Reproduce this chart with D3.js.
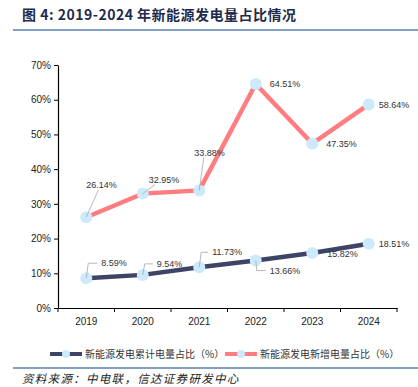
<!DOCTYPE html>
<html>
<head>
<meta charset="utf-8">
<script src="https://cdn.jsdelivr.net/npm/d3@7"></script>
<style>
  body { margin: 0; background: #fff; }
  svg { display: block; font-family: "Liberation Sans", Arial, sans-serif; }
</style>
</head>
<body>
<div id="chart"></div>
<script>
const years = ['2019', '2020', '2021', '2022', '2023', '2024'];
const cumulative = [8.59, 9.54, 11.73, 13.66, 15.82, 18.51];
const newAdded = [26.14, 32.95, 33.88, 64.51, 47.35, 58.64];
const yTicks = [0, 10, 20, 30, 40, 50, 60, 70];
const seriesNames = ['新能源发电累计电量占比（%）', '新能源发电新增电量占比（%）'];

// label placement relative to the point: [dx, dy, leader type]
const cumLabelPos = [[15, -15, 'elbow'], [14, -11, 'elbow'], [13, -15, 'elbow'], [14, 10, 'elbowDown'], [15, 1, 'none'], [10, 0, 'none']];
const newLabelPos = [[0, -32, 'diag'], [6, -14, 'diag'], [-5, -38, 'diag'], [14, 0, 'none'], [14, 0, 'none'], [10, 0, 'none']];

const W = 418, H = 387;
const margin = { top: 65, left: 58, right: 21, bottom: 79 };

const svg = d3.select('#chart').append('svg')
    .attr('width', W)
    .attr('height', H);

// title + rules
svg.append('text')
    .attr('x', 22)
    .attr('y', 20)
    .attr('font-size', 14)
    .attr('font-weight', 'bold')
    .attr('letter-spacing', 0.5)
    .attr('fill', '#1f2b4d')
    .attr('font-family', '"Noto Sans CJK SC", "Liberation Sans", sans-serif')
    .text('图 4:  2019-2024 年新能源发电量占比情况');

svg.append('line')
    .attr('x1', 13).attr('x2', W).attr('y1', 30).attr('y2', 30)
    .attr('stroke', '#5b7fb0').attr('stroke-width', 1.5);

svg.append('line')
    .attr('x1', 13).attr('x2', W).attr('y1', 368).attr('y2', 368)
    .attr('stroke', '#5b7fb0').attr('stroke-width', 1.5);

svg.append('text')
    .attr('x', 22)
    .attr('y', 383)
    .attr('font-size', 11.5)
    .attr('font-style', 'italic')
    .attr('letter-spacing', 1.3)
    .attr('fill', '#222')
    .attr('font-family', '"Noto Sans CJK SC", serif')
    .text('资料来源：中电联，信达证券研发中心');

// scales
const x = d3.scaleBand()
    .domain(years)
    .range([margin.left, W - margin.right]);

const y = d3.scaleLinear()
    .domain([0, 70])
    .range([H - margin.bottom, margin.top]);

const g = svg.append('g');

// axes
const yAxis = g.append('g')
    .attr('transform', `translate(${margin.left},0)`)
    .call(d3.axisLeft(y).tickValues(yTicks).tickFormat(d => d + '%').tickSize(4).tickSizeOuter(0));

const xAxis = g.append('g')
    .attr('transform', `translate(0,${y(0)})`)
    .call(d3.axisBottom(x).tickSize(0).tickSizeOuter(0));

// category boundary ticks
xAxis.selectAll('.bound')
    .data(d3.range(years.length + 1))
    .join('line')
    .attr('class', 'bound')
    .attr('x1', i => margin.left + i * x.step())
    .attr('x2', i => margin.left + i * x.step())
    .attr('y1', 0).attr('y2', 4)
    .attr('stroke', '#000');

[yAxis, xAxis].forEach(a => {
    a.select('.domain').attr('stroke', '#000').attr('stroke-width', 1.2);
    a.selectAll('text').attr('font-size', 10).attr('fill', '#222');
    a.selectAll('.tick line').attr('stroke', '#000');
});
xAxis.selectAll('.tick text').attr('dy', '1.35em');

const cx = d => x(d) + x.bandwidth() / 2;

const line = d3.line()
    .x((d, i) => cx(years[i]))
    .y(d => y(d));

const series = [
    { values: cumulative, color: '#3d4466', pos: cumLabelPos },
    { values: newAdded, color: '#ff7c80', pos: newLabelPos },
];

series.forEach(s => {
    g.append('path')
        .datum(s.values)
        .attr('d', line)
        .attr('fill', 'none')
        .attr('stroke', s.color)
        .attr('stroke-width', 4.5);

    g.selectAll(null)
        .data(s.values)
        .join('circle')
        .attr('cx', (d, i) => cx(years[i]))
        .attr('cy', d => y(d))
        .attr('r', 6)
        .attr('fill', '#cdeafd');

    s.values.forEach((v, i) => {
        const px = cx(years[i]), py = y(v);
        const [dx, dy, kind] = s.pos[i];
        const tx = px + dx, ty = py + dy;
        if (kind === 'elbow') {
            g.append('polyline')
                .attr('points', `${px},${py} ${px + 2},${ty} ${tx - 4},${ty}`)
                .attr('fill', 'none').attr('stroke', '#a6a6a6').attr('stroke-width', 0.8);
        } else if (kind === 'elbowDown') {
            g.append('polyline')
                .attr('points', `${px},${py} ${px + 1},${ty} ${tx - 4},${ty}`)
                .attr('fill', 'none').attr('stroke', '#a6a6a6').attr('stroke-width', 0.8);
        } else if (kind === 'diag') {
            g.append('line')
                .attr('x1', px).attr('y1', py)
                .attr('x2', px + dx * 0.7 + (dx === 0 ? 12 : 8)).attr('y2', ty + 5)
                .attr('stroke', '#a6a6a6').attr('stroke-width', 0.8);
        }
        g.append('text')
            .attr('x', tx)
            .attr('y', ty)
            .attr('dy', '0.35em')
            .attr('font-size', 9)
            .attr('fill', '#333')
            .text(v.toFixed(2) + '%');
    });
});

// legend
const legend = svg.append('g').attr('transform', 'translate(0,354)');
const legendX = [50, 225];
series.forEach((s, i) => {
    const lx = legendX[i];
    legend.append('line')
        .attr('x1', lx).attr('x2', lx + 32).attr('y1', 0).attr('y2', 0)
        .attr('stroke', s.color).attr('stroke-width', 4);
    legend.append('circle')
        .attr('cx', lx + 16).attr('cy', 0).attr('r', 4)
        .attr('fill', '#cdeafd');
    legend.append('text')
        .attr('x', lx + 35).attr('y', 0).attr('dy', '0.35em')
        .attr('font-size', 10)
        .attr('fill', '#333')
        .attr('font-family', '"Noto Sans CJK SC", sans-serif')
        .text(seriesNames[i]);
});
</script>
</body>
</html>
